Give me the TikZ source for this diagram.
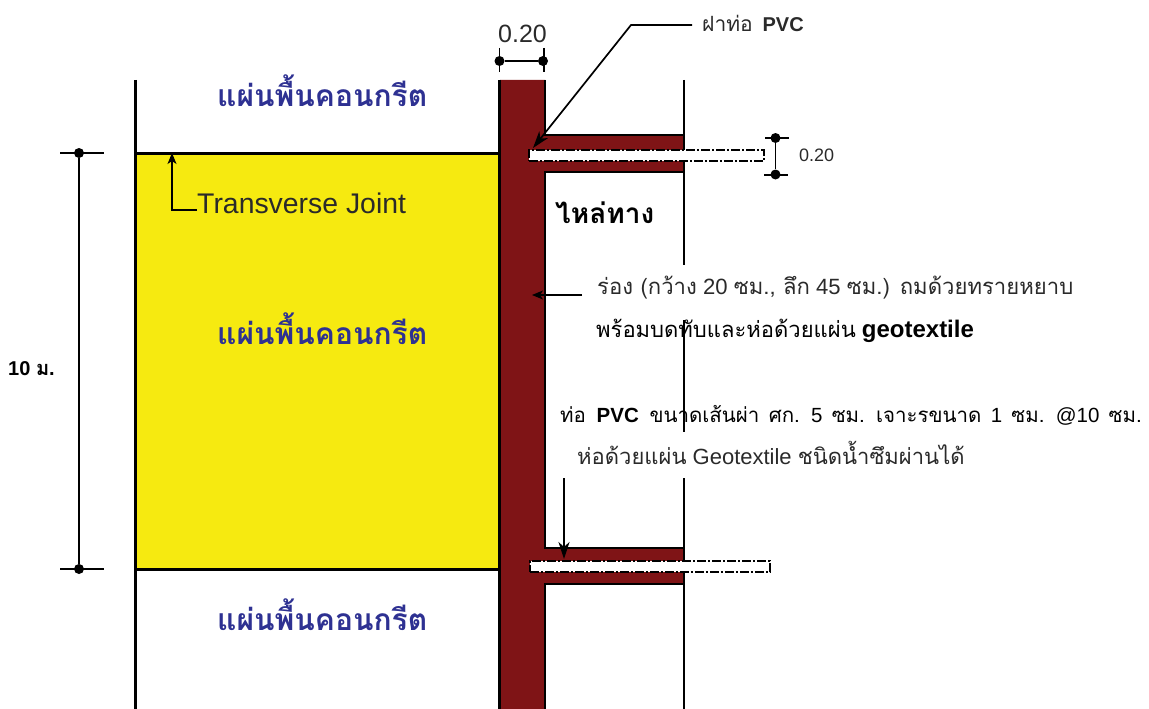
\documentclass[tikz,border=0pt]{standalone}
\usepackage{fontspec}
\setmainfont{Liberation Sans}
\newfontfamily\thaifont[Script=Thai]{Loma}
\usetikzlibrary{arrows.meta}
\definecolor{slab}{HTML}{F6EA10}
\definecolor{trench}{HTML}{7F1416}
\definecolor{title}{HTML}{2E3192}
\definecolor{ink}{HTML}{2A2A2A}
\tikzset{
  x=1pt,y=-1pt,
  wall/.style={line width=3pt,black},
  edge/.style={line width=2.2pt,black},
  dimline/.style={line width=1.6pt,black},
  tick/.style={line width=1.1pt,black},
  leader/.style={line width=1.7pt,black,-{Stealth[length=17pt,width=11pt,inset=5pt]}},
  smallarrow/.style={line width=1.6pt,black,-{Stealth[length=11pt,width=9pt,inset=3pt]}},
  dotn/.style={circle,fill=black,inner sep=0pt,minimum size=10pt},
  pipe/.style={fill=white,draw=black,line width=1.9pt,dash pattern=on 9pt off 2pt on 2pt off 2pt},
  lbl/.style={inner sep=0pt,anchor=west,text=ink},
  slabtxt/.style={inner sep=0pt,anchor=west,text=title,font=\thaifont\bfseries\fontsize{30}{30}\selectfont},
}
\begin{document}
\begin{tikzpicture}
\useasboundingbox (0,0) rectangle (1149,709);
% yellow slab
\fill[slab] (135,153) rectangle (499,569);
% trench body
\fill[trench] (500,80) -- (545,80) -- (545,135) -- (684,135) -- (684,172) -- (545,172) -- (545,548) -- (684,548) -- (684,584) -- (545,584) -- (545,709) -- (500,709) -- cycle;
% slab joints and walls
\draw[wall] (135,153) -- (499,153);
\draw[wall] (135,569.5) -- (499,569.5);
\draw[wall] (135,80) -- (135,709);
\draw[wall] (499.5,80) -- (499.5,709);
\draw[edge] (545,80) -- (545,135) -- (684,135);
\draw[edge] (684,172) -- (545,172) -- (545,548) -- (684,548);
\draw[edge] (684,584) -- (545,584) -- (545,709);
% shoulder edge, broken by the texts
\draw[edge] (684,80) -- (684,265);
\draw[edge] (684,320) -- (684,432);
\draw[edge] (684,478) -- (684,709);
% pipes
\node[pipe,minimum width=235pt,minimum height=11pt,inner sep=0pt,anchor=north west] (pipeA) at (528,149) {};
\node[pipe,minimum width=240pt,minimum height=11pt,inner sep=0pt,anchor=north west] (pipeB) at (529,560) {};
% width dimension
\coordinate (wt1) at (499.5,48); \coordinate (wb1) at (499.5,72);
\coordinate (wt2) at (544,48); \coordinate (wb2) at (544,72);
\draw[tick] (wt1) -- (wb1); \draw[tick] (wt2) -- (wb2);
\node[dotn] (wd1) at (499.5,61) {}; \node[dotn] (wd2) at (543,61) {};
\draw[dimline] (wd1) -- (wd2);
\node[lbl,font=\fontsize{25}{25}\selectfont] (wlab) at (498,34) {0.20};
% pipe dimension
\coordinate (pa1) at (765,138); \coordinate (pa2) at (789,138);
\coordinate (pb1) at (764,175); \coordinate (pb2) at (788,175);
\draw[tick] (pa1) -- (pa2); \draw[tick] (pb1) -- (pb2);
\node[dotn] (pd1) at (775.5,138) {}; \node[dotn] (pd2) at (775.5,174.5) {};
\draw[dimline] (pd1) -- (pd2);
\node[lbl,font=\fontsize{18}{18}\selectfont] (plab) at (799,155) {0.20};
% 10 m dimension
\coordinate (ha1) at (60,153); \coordinate (ha2) at (104,153);
\coordinate (hb1) at (60,569); \coordinate (hb2) at (104,569);
\draw[tick] (ha1) -- (ha2); \draw[tick] (hb1) -- (hb2);
\node[dotn] (hd1) at (79,153) {}; \node[dotn] (hd2) at (79,569) {};
\draw[dimline] (hd1) -- (hd2);
\node[lbl,text=black,font=\bfseries\fontsize{20}{20}\selectfont] (hlab) at (8,369) {10 {\thaifont ม}.};
% slab titles
\node[slabtxt] (s1) at (217,91) {แผ่นพื้นคอนกรีต};
\node[slabtxt] (s2) at (217,329) {แผ่นพื้นคอนกรีต};
\node[slabtxt] (s3) at (217,615) {แผ่นพื้นคอนกรีต};
\node[lbl,text=black,font=\thaifont\bfseries\fontsize{28}{28}\selectfont] (sh) at (555,213) {ไหล่ทาง};
% transverse joint
\node[lbl,font=\fontsize{28.4}{28.4}\selectfont] (tj) at (197,203) {Transverse Joint};
\coordinate (tjb) at (172,210); \coordinate (tjt) at (172,153);
\draw[smallarrow] (tj.west |- tjb) -- (tjb) -- (tjt);
% PVC cap
\node[lbl,font=\fontsize{21}{21}\selectfont] (cap) at (702,23) {{\thaifont ฝาท่อ}\hspace{4pt} \textbf{\fontsize{20}{20}\selectfont PVC}};
\coordinate (capb) at (631,25); \coordinate (capt) at (533,148);
\draw[leader] (692,25) -- (capb) -- (capt);
% notes
\node[lbl,font=\fontsize{22.1}{22.1}\selectfont] (n1) at (597,288) {{\thaifont ร่อง (กว้าง} 20 {\thaifont ซม., ลึก} 45 {\thaifont ซม.) ถมด้วยทรายหยาบ}};
\node[lbl,text=black,font=\fontsize{22}{22}\selectfont] (n2) at (596,331) {{\thaifont พร้อมบดทับและห่อด้วยแผ่น} \textbf{\fontsize{24}{24}\selectfont geotextile}};
\node[lbl,text=black,font=\fontsize{20.5}{20.5}\selectfont] (n3) at (560,415) {{\thaifont ท่อ}\hspace{5pt} \textbf{PVC}\hspace{5pt} {\thaifont ขนาดเส้นผ่า}\hspace{3.6pt} {\thaifont ศก.}\hspace{3.6pt} 5\hspace{3.6pt} {\thaifont ซม.}\hspace{3.6pt} {\thaifont เจาะรขนาด}\hspace{3.6pt} 1\hspace{3.6pt} {\thaifont ซม.}\hspace{3.6pt} @10\hspace{3.6pt} {\thaifont ซม.}};
\node[lbl,font=\fontsize{22}{22}\selectfont] (n4) at (577,453) {{\thaifont ห่อด้วยแผ่น} Geotextile {\thaifont ชนิดน้ำซึมผ่านได้}};
\coordinate (t1) at (582,295); \coordinate (t2) at (532,295);
\draw[smallarrow] (t1) -- (t2);
\coordinate (p1) at (564,478); \coordinate (p2) at (564,559);
\draw[leader] (p1) -- (p2);
\end{tikzpicture}
\end{document}
